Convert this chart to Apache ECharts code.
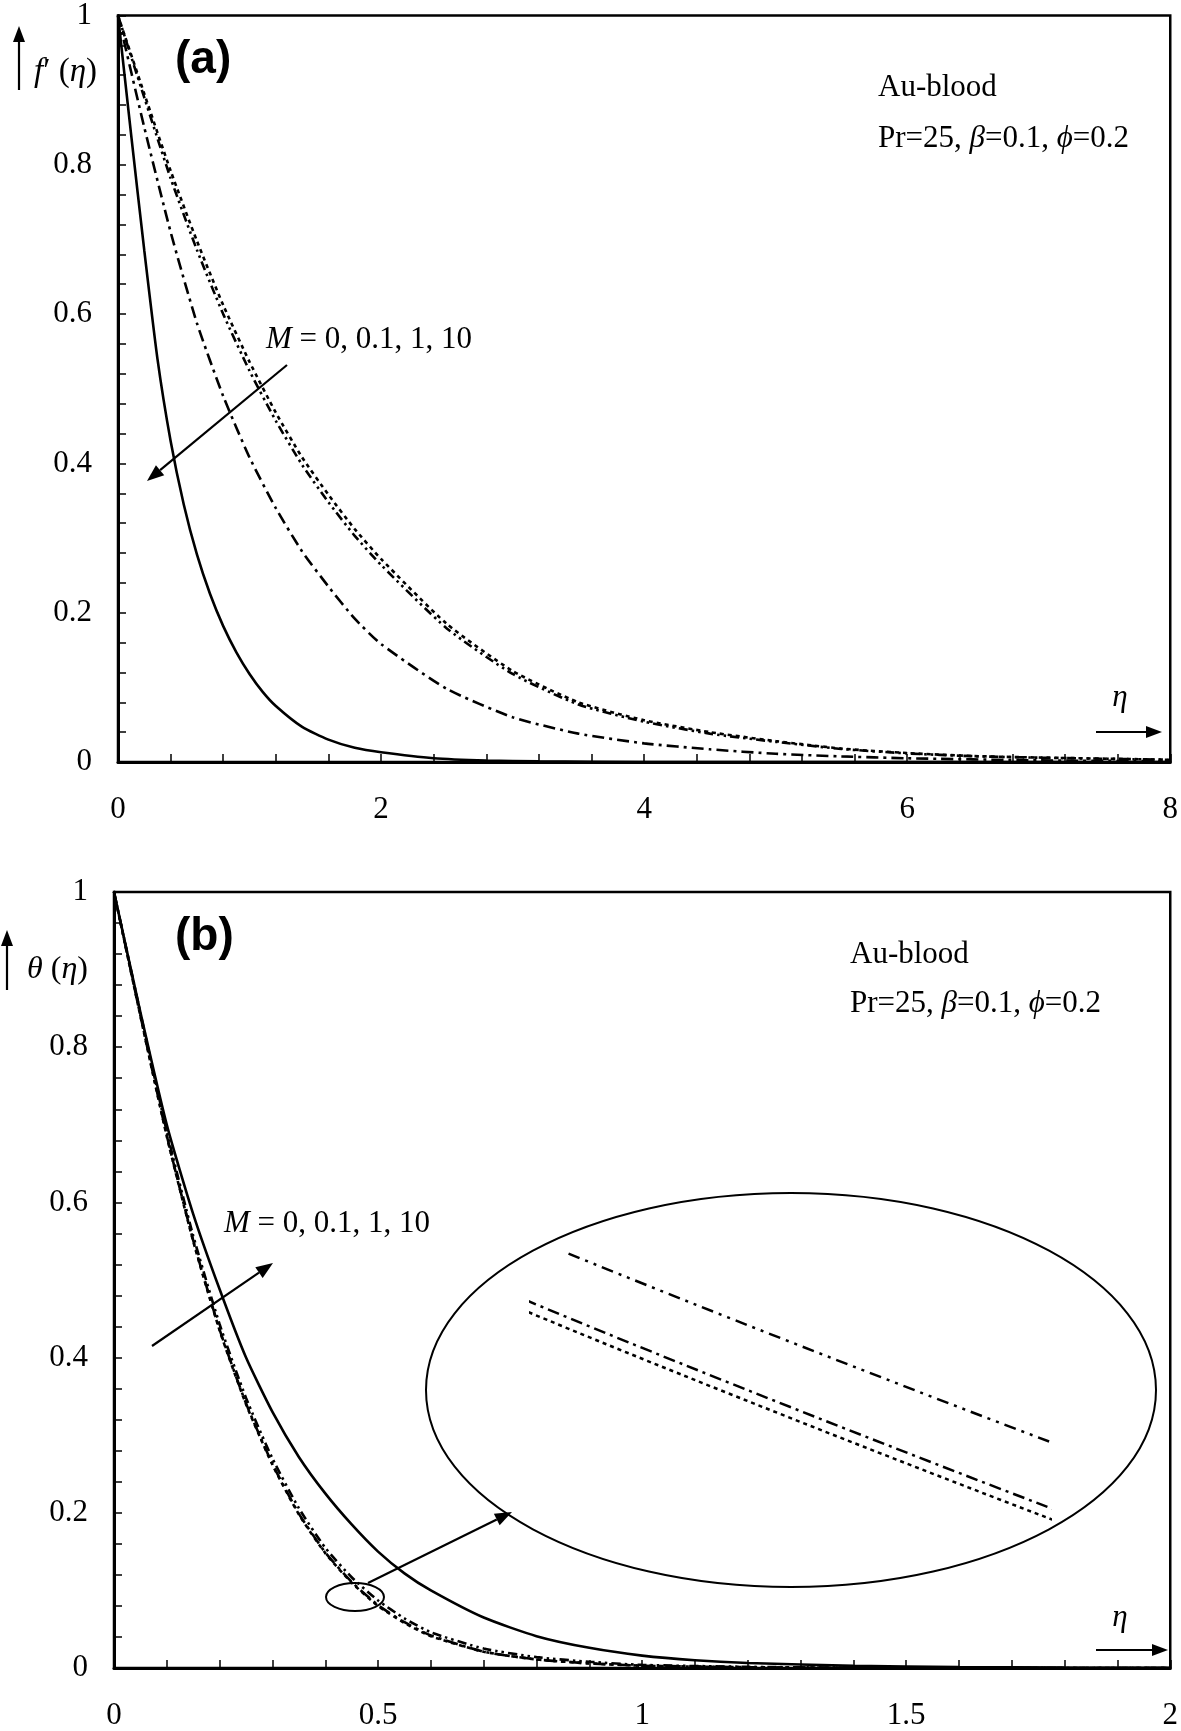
<!DOCTYPE html>
<html><head><meta charset="utf-8">
<script src="https://cdn.jsdelivr.net/npm/echarts@6/dist/echarts.min.js"></script>
<style>html,body{margin:0;padding:0;background:#fff}#c{width:1181px;height:1731px}</style>
</head><body><div id="c"></div>
<script>
// ---------- Panel (a): f'(eta) ----------
const xTicksA = [0, 2, 4, 6, 8];
const yTicksA = [0, 0.2, 0.4, 0.6, 0.8, 1];
const fA_M0 = [[0,1],[0.2,0.895],[0.4,0.792],[0.6,0.698],[0.8,0.612],[1.0,0.536],[1.2,0.468],[1.4,0.408],[1.6,0.358],[1.8,0.312],[2.0,0.272],[2.5,0.185],[3.0,0.122],[3.5,0.080],[4.0,0.056],[4.5,0.040],[5.0,0.028],[5.5,0.018],[6.0,0.012],[6.5,0.008],[7.0,0.006],[8.0,0.003]];
const fA_M01 = [[0,1],[0.2,0.89],[0.4,0.782],[0.6,0.686],[0.8,0.600],[1.0,0.524],[1.2,0.457],[1.4,0.398],[1.6,0.348],[1.8,0.303],[2.0,0.264],[2.5,0.179],[3.0,0.118],[3.5,0.077],[4.0,0.054],[4.5,0.038],[5.0,0.027],[5.5,0.0175],[6.0,0.0115],[6.5,0.0078],[7.0,0.0058],[8.0,0.003]];
const fA_M1 = [[0,1],[0.2,0.85],[0.4,0.71],[0.6,0.588],[0.8,0.49],[1.0,0.408],[1.2,0.34],[1.4,0.282],[1.6,0.235],[1.8,0.192],[2.0,0.158],[2.5,0.098],[3.0,0.060],[3.5,0.038],[4.0,0.025],[4.5,0.017],[5.0,0.011],[5.5,0.0075],[6.0,0.005],[7.0,0.0022],[8.0,0.001]];
const fA_M10 = [[0,1],[0.1,0.84],[0.2,0.685],[0.3,0.54],[0.4,0.43],[0.5,0.345],[0.6,0.278],[0.7,0.225],[0.8,0.182],[0.9,0.147],[1.0,0.118],[1.1,0.094],[1.2,0.075],[1.4,0.047],[1.6,0.030],[1.8,0.019],[2.0,0.013],[2.4,0.005],[2.8,0.002],[3.2,0.001],[4,0],[8,0]];

// ---------- Panel (b): theta(eta) ----------
const xTicksB = [0, 0.5, 1, 1.5, 2];
const yTicksB = [0, 0.2, 0.4, 0.6, 0.8, 1];
const tB_M0 = [[0,1],[0.05,0.84],[0.1,0.685],[0.15,0.55],[0.2,0.435],[0.25,0.34],[0.3,0.262],[0.35,0.198],[0.4,0.148],[0.45,0.11],[0.5,0.08],[0.55,0.058],[0.6,0.041],[0.7,0.021],[0.8,0.011],[0.9,0.006],[1.0,0.003],[1.2,0.001],[1.5,0],[2,0]];
const tB_M01 = [[0,1],[0.05,0.841],[0.1,0.686],[0.15,0.551],[0.2,0.436],[0.25,0.341],[0.3,0.263],[0.35,0.199],[0.4,0.149],[0.45,0.111],[0.5,0.081],[0.55,0.059],[0.6,0.042],[0.7,0.021],[0.8,0.011],[0.9,0.006],[1.0,0.003],[1.2,0.001],[1.5,0],[2,0]];
const tB_M1 = [[0,1],[0.05,0.844],[0.1,0.691],[0.15,0.557],[0.2,0.443],[0.25,0.348],[0.3,0.27],[0.35,0.206],[0.4,0.155],[0.45,0.117],[0.5,0.087],[0.55,0.064],[0.6,0.046],[0.7,0.025],[0.8,0.014],[0.9,0.008],[1.0,0.004],[1.2,0.0015],[1.5,0],[2,0]];
const tB_M10 = [[0,1],[0.05,0.845],[0.1,0.70],[0.15,0.585],[0.2,0.488],[0.25,0.40],[0.3,0.33],[0.35,0.272],[0.4,0.225],[0.45,0.185],[0.5,0.15],[0.55,0.122],[0.6,0.10],[0.7,0.065],[0.8,0.041],[0.9,0.026],[1.0,0.016],[1.1,0.010],[1.2,0.0065],[1.4,0.0028],[1.6,0.0012],[1.8,0.0005],[2,0.0002]];

// inset window (zoom of the small ellipse)
const insetEta = [0.455, 0.486];
const insetEtaM1Start = 0.4574;
const insetTheta = [0.0841, 0.1171];

const SERIF = '"Liberation Serif","Times New Roman",serif';
const SANS = '"Liberation Sans",Arial,sans-serif';

const DOT = [4, 4];
const DASHDOTDOT = [9, 4, 2.5, 4, 2.5, 4];
const DASHDOT = [12, 5, 3, 5];

function valAxis(ticks, gridIndex, isX, extra) {
  return Object.assign({
    type: 'value', gridIndex,
    min: ticks[0], max: ticks[ticks.length - 1], interval: ticks[1] - ticks[0],
    axisLine: { show: true, onZero: false, lineStyle: { color: '#000', width: 3 } },
    axisTick: { show: true, inside: true, length: 8, lineStyle: { color: '#000', width: 1.5 } },
    minorTick: { show: true, splitNumber: 5, length: 8, lineStyle: { color: '#000', width: 1.5 } },
    splitLine: { show: false }, minorSplitLine: { show: false },
    axisLabel: { color: '#000', fontFamily: SERIF, fontSize: 31, margin: isX ? 32 : 26 }
  }, extra || {});
}
function hiddenAxis(range, gridIndex) {
  return { type: 'value', gridIndex, min: range[0], max: range[1], show: false };
}
function line(data, xi, dash, w) {
  return {
    type: 'line', data, xAxisIndex: xi, yAxisIndex: xi, showSymbol: false, symbol: 'none',
    smooth: 0.2, clip: true, silent: true,
    lineStyle: { color: '#000', width: w || 2.6, type: dash || 'solid', cap: 'butt' }
  };
}

const G = [];
function arrow(x1, y1, x2, y2, head, hw) {
  head = head || 17; hw = hw || 6.5;
  const a = Math.atan2(y2 - y1, x2 - x1);
  const bx = x2 - head * Math.cos(a), by = y2 - head * Math.sin(a);
  const px = -Math.sin(a) * hw, py = Math.cos(a) * hw;
  G.push({ type: 'line', z: 50, shape: { x1, y1, x2: bx, y2: by }, style: { stroke: '#000', lineWidth: 2.2 } });
  G.push({ type: 'polygon', z: 50, shape: { points: [[x2, y2], [bx + px, by + py], [bx - px, by - py]] }, style: { fill: '#000' } });
}
function text(x, y, str, opts, size) {
  size = size || 31;
  G.push({ type: 'text', z: 50, x, y, style: Object.assign({
    text: str, fill: '#000', fontFamily: SERIF, fontSize: size, align: 'left', verticalAlign: 'middle',
    rich: { i: { fontFamily: SERIF, fontSize: size, fontStyle: 'italic', fill: '#000' },
            n: { fontFamily: SERIF, fontSize: size, fill: '#000' } }
  }, opts || {}) });
}

// Panel (a) annotations
text(175, 60, '(a)', { fontFamily: SANS, fontWeight: 'bold', fontSize: 46 });
arrow(19, 90, 19, 26, 16, 6);
text(34, 72, '{i|f}{n|′ (}{i|η}{n|)}', null, 33);
text(878, 88, 'Au-blood');
text(878, 139, '{n|Pr=25, }{i|β}{n|=0.1, }{i|ϕ}{n|=0.2}');
text(266, 340, '{i|M}{n| = 0, 0.1, 1, 10}');
arrow(287, 365, 147, 481);
text(1120, 698, '{i|η}', { align: 'center' });
arrow(1096, 732, 1162, 732, 16, 6);

// Panel (b) annotations
text(175, 937, '(b)', { fontFamily: SANS, fontWeight: 'bold', fontSize: 46 });
arrow(7, 990, 7, 930, 16, 6);
text(27, 970, '{i|θ}{n| (}{i|η}{n|)}', null, 32);
text(850, 955, 'Au-blood');
text(850, 1004, '{n|Pr=25, }{i|β}{n|=0.1, }{i|ϕ}{n|=0.2}');
text(224, 1224, '{i|M}{n| = 0, 0.1, 1, 10}');
arrow(152, 1346, 273, 1263);
text(1120, 1618, '{i|η}', { align: 'center' });
arrow(1096, 1650, 1168, 1650, 16, 6);
G.push({ type: 'ellipse', z: 50, shape: { cx: 355, cy: 1597, rx: 29, ry: 14 }, style: { fill: 'none', stroke: '#000', lineWidth: 2 } });
G.push({ type: 'ellipse', z: 50, shape: { cx: 791, cy: 1390, rx: 365, ry: 197 }, style: { fill: 'none', stroke: '#000', lineWidth: 2 } });
arrow(368, 1583, 512, 1512);

const chart = echarts.init(document.getElementById('c'), null, { renderer: 'canvas' });
chart.setOption({
  animation: false,
  backgroundColor: '#fff',
  grid: [
    { left: 118, top: 11, right: 7, height: 751, show: true, borderColor: '#000', borderWidth: 2.5, backgroundColor: 'transparent' },
    { left: 114, top: 892, right: 9, height: 781, show: true, borderColor: '#000', borderWidth: 2.5, backgroundColor: 'transparent' },
    { left: 531, top: 1200, width: 519, height: 360 },
    { left: 568, top: 1200, width: 482, height: 360 }
  ],
  xAxis: [
    valAxis(xTicksA, 0, true),
    valAxis(xTicksB, 1, true),
    hiddenAxis(insetEta, 2),
    hiddenAxis([insetEtaM1Start, insetEta[1]], 3)
  ],
  yAxis: [
    valAxis(yTicksA, 0, false),
    valAxis(yTicksB, 1, false),
    hiddenAxis(insetTheta, 2),
    hiddenAxis(insetTheta, 3)
  ],
  series: [
    line(fA_M0, 0, DOT),
    line(fA_M01, 0, DASHDOTDOT),
    line(fA_M1, 0, DASHDOT),
    line(fA_M10, 0, 'solid'),
    line(tB_M0, 1, DOT),
    line(tB_M01, 1, DASHDOT),
    line(tB_M1, 1, DASHDOTDOT),
    line(tB_M10, 1, 'solid'),
    line(tB_M0, 2, [4, 4], 2.5),
    line(tB_M01, 2, [12, 5, 3, 5], 2.5),
    line(tB_M1, 3, [12, 6, 3, 6, 3, 6], 2.5)
  ],
  graphic: G
});
</script>
</body></html>
